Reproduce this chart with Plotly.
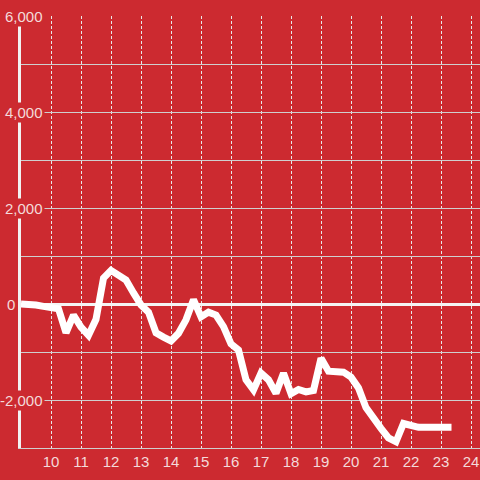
import plotly.graph_objects as go

hours = [9.00, 9.25, 9.50, 9.75, 10.00, 10.25, 10.50, 10.75, 11.00, 11.25, 11.50, 11.75,
         12.00, 12.25, 12.50, 12.75, 13.00, 13.25, 13.50, 13.75, 14.00, 14.25, 14.50, 14.75,
         15.00, 15.25, 15.50, 15.75, 16.00, 16.25, 16.50, 16.75, 17.00, 17.25, 17.50, 17.75,
         18.00, 18.25, 18.50, 18.75, 19.00, 19.25, 19.50, 19.75, 20.00, 20.25, 20.50, 20.75,
         21.00, 21.25, 21.50, 21.75, 22.00, 22.25, 22.50, 22.75, 23.00, 23.25, 23.35]
values = [0, 0, -20, -50, -70, -100, -600, -230, -480, -650, -320, 540,
          700, 600, 500, 230, -20, -170, -600, -690, -770, -610, -330, 90,
          -270, -170, -230, -470, -830, -960, -1580, -1790, -1440, -1580, -1860, -1440,
          -1870, -1780, -1830, -1800, -1130, -1400, -1410, -1420, -1520, -1750, -2160, -2350,
          -2590, -2790, -2870, -2490, -2540, -2570, -2570, -2570, -2570, -2570, -2570]

x_ticks = [10, 11, 12, 13, 14, 15, 16, 17, 18, 19, 20, 21, 22, 23, 24]
y_label_vals = [6000, 4000, 2000, 0, -2000]
y_label_text = ["6,000", "4,000", "2,000", "0", "-2,000"]
y_label_right_px = [45, 45, 45, 17, 45]

BG = "#cc2a30"
LABEL = "#f4dada"
FONT = "Liberation Sans, Arial, sans-serif"

W = H = 480
L, T, R, B = 21, 16, 0, 32
plot_w = W - L - R

fig = go.Figure()
fig.add_trace(go.Scatter(x=hours, y=values, mode="lines",
                         line=dict(color="white", width=7), hoverinfo="skip"))

for v, t, rpx in zip(y_label_vals, y_label_text, y_label_right_px):
    fig.add_annotation(x=(rpx - L) / plot_w, xref="paper", xanchor="right",
                       y=v, yref="y", yanchor="middle", text=t, showarrow=False,
                       bgcolor=BG, borderpad=1,
                       font=dict(family=FONT, size=15, color=LABEL))

fig.update_layout(
    width=W, height=H,
    margin=dict(l=L, r=R, t=T, b=B),
    paper_bgcolor=BG, plot_bgcolor=BG,
    showlegend=False,
    xaxis=dict(range=[9.0, 9.0 + plot_w / 30.0], tickvals=x_ticks,
               ticktext=[str(t) for t in x_ticks], automargin=False,
               showgrid=True, gridcolor="#e8e8e8", gridwidth=1, griddash="3px,2px",
               zeroline=False, showline=True, linecolor="#cfcfcf", linewidth=1,
               ticks="", tickfont=dict(family=FONT, size=15, color=LABEL)),
    yaxis=dict(range=[-3000, 6000], dtick=1000, tick0=0, showticklabels=False,
               automargin=False,
               showgrid=True, gridcolor="#cfcfcf", gridwidth=1,
               zeroline=True, zerolinecolor="#f4f4f4", zerolinewidth=3,
               showline=True, linecolor="#f2f2f2", linewidth=3, ticks=""),
)

fig.write_html("out.html", config={"displayModeBar": False},
               post_script="document.body.style.margin='0';"
                           "document.body.style.background='" + BG + "';")
